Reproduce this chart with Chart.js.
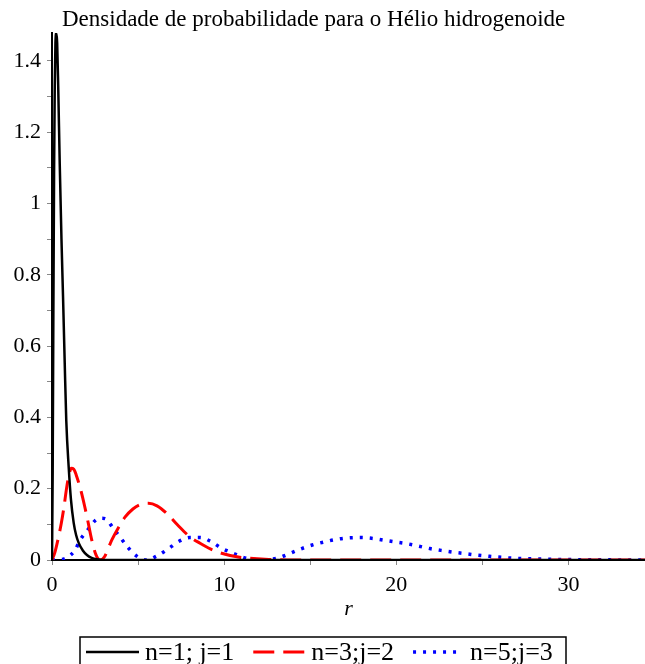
<!DOCTYPE html>
<html>
<head>
<meta charset="utf-8">
<script src="https://cdn.jsdelivr.net/npm/chart.js@4/dist/chart.umd.min.js"></script>
<style>
  html, body { margin: 0; padding: 0; background: #fff; }
  canvas { display: block; }
</style>
</head>
<body>
<canvas id="plot" width="645" height="664"></canvas>
<script>
// ── Radial densities, read as (r, P) pairs ──
const rN1 = [0, 0.04, 0.08, 0.12, 0.16, 0.2, 0.25, 0.3, 0.36, 0.45, 0.55, 0.64, 0.74, 0.83, 0.97, 1.1, 1.26, 1.4, 1.55, 1.8, 2.03, 2.3, 2.6, 3.0, 34.45];
const pN1 = [0, 0.25, 0.7, 1.08, 1.33, 1.45, 1.477, 1.45, 1.33, 1.11, 0.9, 0.74, 0.55, 0.39, 0.26, 0.17, 0.104, 0.07, 0.048, 0.026, 0.014, 0.006, 0.002, 0, 0];

const rN3 = [0, 0.16, 0.35, 0.54, 0.7, 0.83, 0.97, 1.12, 1.26, 1.41, 1.65, 1.9, 2.1, 2.3, 2.55, 2.79, 3.05, 3.47, 3.85, 4.24, 4.7, 5.1, 5.6, 6.1, 6.66, 7.3, 8.01, 8.6, 9.2, 9.85, 10.9, 11.7, 12.6, 14, 34.45];
const pN3 = [0, 0.02, 0.058, 0.103, 0.15, 0.196, 0.235, 0.257, 0.255, 0.238, 0.2, 0.15, 0.105, 0.058, 0.015, 0, 0.009, 0.056, 0.09, 0.12, 0.143, 0.155, 0.159, 0.152, 0.131, 0.098, 0.065, 0.047, 0.031, 0.019, 0.0075, 0.004, 0.0015, 0, 0];

const rN5 = [0, 0.4, 0.85, 1.34, 1.63, 2.07, 2.5, 2.8, 3.08, 3.56, 4.0, 4.45, 4.92, 5.5, 6.08, 6.75, 7.33, 8.01, 8.6, 9.27, 9.85, 10.53, 11.11, 11.69, 12.2, 12.7, 13.14, 13.75, 14.45, 15.12, 15.85, 16.53, 17.2, 17.9, 18.56, 19.24, 19.9, 20.6, 21.3, 21.95, 22.6, 23.3, 24.0, 24.65, 25.3, 26.1, 26.8, 28.2, 30, 32, 34.45];
const pN5 = [0, 0.0005, 0.006, 0.028, 0.056, 0.084, 0.11, 0.117, 0.116, 0.089, 0.061, 0.033, 0.011, 0, 0.011, 0.031, 0.051, 0.063, 0.063, 0.051, 0.033, 0.019, 0.0075, 0.002, 0, 0.002, 0.006, 0.017, 0.031, 0.042, 0.051, 0.058, 0.062, 0.063, 0.061, 0.056, 0.051, 0.046, 0.039, 0.032, 0.027, 0.022, 0.018, 0.014, 0.011, 0.0075, 0.005, 0.003, 0.0012, 0.0005, 0.0002];

const seriesNames = ['n=1; j=1', 'n=3;j=2', 'n=5;j=3'];
const xTicks = [0, 5, 10, 15, 20, 25, 30];
const yTicks = [0, 0.1, 0.2, 0.3, 0.4, 0.5, 0.6, 0.7, 0.8, 0.9, 1, 1.1, 1.2, 1.3, 1.4];
const titleText = 'Densidade de probabilidade para o Hélio hidrogenoide';

const SERIF = '"Liberation Serif", "Times New Roman", serif';
const pts = (rs, ps) => rs.map((r, i) => ({ x: r, y: ps[i] }));

// line look per series; sample = length of the stroke shown in the legend
const styles = [
  { color: '#000000', width: 2.5, dash: [], sample: 53 },
  { color: '#ff0000', width: 3, dash: [21, 9], sample: 52 },
  { color: '#0000ff', width: 3.5, dash: [3, 7], sample: 43 }
];

// title on top, boxed legend at the bottom
const framePlugin = {
  id: 'frame',
  afterDraw(chart) {
    const ctx = chart.ctx;
    ctx.save();
    ctx.fillStyle = '#000';
    ctx.font = '23px ' + SERIF;
    ctx.textAlign = 'left';
    ctx.textBaseline = 'middle';
    ctx.fillText(titleText, 62, 20);

    // legend
    const yMid = 652;
    ctx.font = '26px ' + SERIF;
    ctx.lineWidth = 1.5;
    ctx.strokeStyle = '#000';
    ctx.strokeRect(80, 637, 486, 30);
    let x = 86;
    seriesNames.forEach((name, i) => {
      const st = styles[i];
      ctx.beginPath();
      ctx.strokeStyle = st.color;
      ctx.lineWidth = st.width;
      ctx.setLineDash(st.dash);
      ctx.moveTo(x, yMid);
      ctx.lineTo(x + st.sample, yMid);
      ctx.stroke();
      ctx.setLineDash([]);
      x += st.sample + (i === 2 ? 14 : 6);
      ctx.fillStyle = '#000';
      ctx.fillText(name, x, yMid + 1);
      x += ctx.measureText(name).width + 19;
    });
    ctx.restore();
  }
};

const fmt = v => String(Number(v.toFixed(1)));

new Chart(document.getElementById('plot'), {
  type: 'line',
  data: {
    datasets: [pts(rN1, pN1), pts(rN3, pN3), pts(rN5, pN5)].map((d, i) => ({
      label: seriesNames[i],
      data: d,
      borderColor: styles[i].color,
      borderWidth: styles[i].width,
      borderDash: styles[i].dash,
      borderCapStyle: 'butt',
      pointRadius: 0,
      cubicInterpolationMode: 'monotone',
      fill: false
    }))
  },
  options: {
    responsive: false,
    animation: false,
    devicePixelRatio: 1,
    layout: { padding: { top: 33, right: 0, bottom: 0, left: 0 } },
    plugins: { legend: { display: false }, title: { display: false }, tooltip: { enabled: false } },
    scales: {
      x: {
        type: 'linear', min: 0, max: 34.45,
        afterFit: s => { s.height = 104; },
        afterBuildTicks: s => { s.ticks = xTicks.map(v => ({ value: v })); },
        border: { display: true, color: '#000', width: 2 },
        grid: { drawOnChartArea: false, drawTicks: true, tickLength: 5, color: '#888', lineWidth: 1 },
        ticks: { color: '#000', font: { family: SERIF, size: 22 }, padding: 7, maxRotation: 0,
                 callback: v => (v % 10 === 0 ? String(v) : '') },
        title: { display: true, text: 'r', color: '#000', padding: { top: 0, bottom: 42 },
                 font: { family: SERIF, size: 22, style: 'italic' } }
      },
      y: {
        type: 'linear', min: 0, max: 1.478,
        afterFit: s => { s.width = 52; },
        afterBuildTicks: s => { s.ticks = yTicks.map(v => ({ value: v })); },
        border: { display: true, color: '#000', width: 2 },
        grid: { drawOnChartArea: false, drawTicks: true, tickLength: 5, color: '#888', lineWidth: 1 },
        ticks: { color: '#000', font: { family: SERIF, size: 22 }, padding: 6,
                 callback: v => (Math.round(v * 10) % 2 === 0 ? fmt(v) : '') }
      }
    }
  },
  plugins: [framePlugin]
});
</script>
</body>
</html>
